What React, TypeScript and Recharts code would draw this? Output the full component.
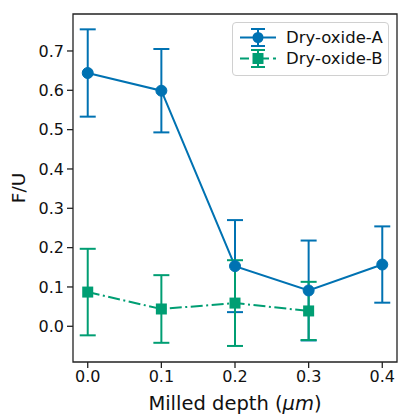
import React from 'react';
import { ComposedChart, Line, XAxis, YAxis, ErrorBar, Legend, ReferenceArea } from 'recharts';

const depthsA = [0.0, 0.1, 0.2, 0.3, 0.4];
const fuA = [0.644, 0.599, 0.153, 0.091, 0.157];
const errA = [0.111, 0.106, 0.117, 0.127, 0.097];

const depthsB = [0.0, 0.1, 0.2, 0.3];
const fuB = [0.087, 0.044, 0.059, 0.039];
const errB = [0.11, 0.086, 0.109, 0.074];

const xTicks = [0.0, 0.1, 0.2, 0.3, 0.4];
const yTicks = [0.0, 0.1, 0.2, 0.3, 0.4, 0.5, 0.6, 0.7];
const xDomain = [-0.02, 0.42];
const yDomain = [-0.0908, 0.794];

const seriesNames = ['Dry-oxide-A', 'Dry-oxide-B'];
const BLUE = '#0072B2';
const GREEN = '#009E73';
const FONT = '"DejaVu Sans", sans-serif';
const DASH = '12 3.5 2 3.5';

const dataA = depthsA.map((x, i) => ({ x, y: fuA[i], e: errA[i] }));
const dataB = depthsB.map((x, i) => ({ x, y: fuB[i], e: errB[i] }));

const CircleDot = (props: any) => {
  const { cx, cy, index } = props;
  if (cx == null || cy == null) return <g key={`a${index}`} />;
  return <circle key={`a${index}`} cx={cx} cy={cy} r={5.5} fill={BLUE} stroke={BLUE} />;
};
const SquareDot = (props: any) => {
  const { cx, cy, index } = props;
  if (cx == null || cy == null) return <g key={`b${index}`} />;
  return <rect key={`b${index}`} x={cx - 5.5} y={cy - 5.5} width={11} height={11} fill={GREEN} />;
};

const LegendIcon = ({ color, square, dashed }: { color: string; square?: boolean; dashed?: boolean }) => (
  <svg width={40} height={21} style={{ display: 'block' }}>
    <line x1={2} y1={10.5} x2={38} y2={10.5} stroke={color} strokeWidth={2} strokeDasharray={dashed ? '9 4 3 4' : undefined} />
    <line x1={20} y1={2} x2={20} y2={19} stroke={color} strokeWidth={2} />
    <line x1={13} y1={2} x2={27} y2={2} stroke={color} strokeWidth={2} />
    <line x1={13} y1={19} x2={27} y2={19} stroke={color} strokeWidth={2} />
    {square ? (
      <rect x={14.5} y={5} width={11} height={11} fill={color} />
    ) : (
      <circle cx={20} cy={10.5} r={5.5} fill={color} />
    )}
  </svg>
);

const renderLegend = () => (
  <div
    style={{
      boxSizing: 'border-box',
      width: 157,
      height: 54,
      border: '1px solid #d0d0d0',
      borderRadius: 4,
      background: 'rgba(255,255,255,0.8)',
      padding: '4px 0 0 5px',
      fontFamily: FONT,
      fontSize: 16.5,
      color: '#111',
    }}
  >
    <div style={{ display: 'flex', alignItems: 'center', height: 21 }}>
      <LegendIcon color={BLUE} />
      <span style={{ marginLeft: 8 }}>{seriesNames[0]}</span>
    </div>
    <div style={{ display: 'flex', alignItems: 'center', height: 21 }}>
      <LegendIcon color={GREEN} square dashed />
      <span style={{ marginLeft: 8 }}>{seriesNames[1]}</span>
    </div>
  </div>
);

const XLabel = (props: any) => {
  const { viewBox } = props;
  const cx = viewBox.x + viewBox.width / 2;
  return (
    <text x={cx} y={viewBox.y + 48} textAnchor="middle" fontFamily={FONT} fontSize={19.5} fill="#111">
      Milled depth (<tspan fontStyle="italic">μm</tspan>)
    </text>
  );
};

const YLabel = (props: any) => {
  const { viewBox } = props;
  const x = viewBox.x + 18.5;
  const y = viewBox.y + viewBox.height / 2;
  return (
    <text x={x} y={y} textAnchor="middle" dominantBaseline="central" transform={`rotate(-90 ${x} ${y})`} fontFamily={FONT} fontSize={18.5} fill="#111">
      F/U
    </text>
  );
};

export default function App() {
  return (
    <div style={{ position: 'absolute', left: 0, top: 0, width: 398, height: 414, background: '#fff' }}>
      <ComposedChart width={398} height={414} margin={{ top: 14, right: 1, left: 0, bottom: 0 }}>
        <XAxis
          dataKey="x"
          type="number"
          domain={xDomain}
          ticks={xTicks}
          allowDataOverflow
          tickFormatter={(v: number) => v.toFixed(1)}
          height={52}
          axisLine={false}
          tickSize={6}
          tickMargin={3}
          tickLine={{ stroke: '#222', strokeWidth: 1.3 }}
          tick={{ fontFamily: FONT, fontSize: 16, fill: '#111' }}
          label={<XLabel />}
        />
        <YAxis
          type="number"
          domain={yDomain}
          ticks={yTicks}
          allowDataOverflow
          tickFormatter={(v: number) => v.toFixed(1)}
          width={73}
          axisLine={false}
          tickSize={6}
          tickMargin={3}
          tickLine={{ stroke: '#222', strokeWidth: 1.3 }}
          tick={{ fontFamily: FONT, fontSize: 16, fill: '#111' }}
          label={<YLabel />}
        />
        <ReferenceArea x1={xDomain[0]} x2={xDomain[1]} y1={yDomain[0]} y2={yDomain[1]} fill="none" stroke="#222" strokeWidth={1.3} ifOverflow="visible" />
        <Line
          data={dataA}
          dataKey="y"
          name={seriesNames[0]}
          stroke={BLUE}
          strokeWidth={2}
          dot={CircleDot}
          activeDot={false}
          isAnimationActive={false}
        >
          <ErrorBar dataKey="e" direction="y" width={8} stroke={BLUE} strokeWidth={2} isAnimationActive={false} />
        </Line>
        <Line
          data={dataB}
          dataKey="y"
          name={seriesNames[1]}
          stroke={GREEN}
          strokeWidth={2}
          strokeDasharray={DASH}
          dot={SquareDot}
          activeDot={false}
          isAnimationActive={false}
        >
          <ErrorBar dataKey="e" direction="y" width={8} stroke={GREEN} strokeWidth={2} isAnimationActive={false} />
        </Line>
        <Legend
          content={renderLegend}
          layout="horizontal"
          align="center"
          verticalAlign="middle"
          wrapperStyle={{ left: 232, top: 22, width: 157, height: 54 }}
        />
      </ComposedChart>
    </div>
  );
}
